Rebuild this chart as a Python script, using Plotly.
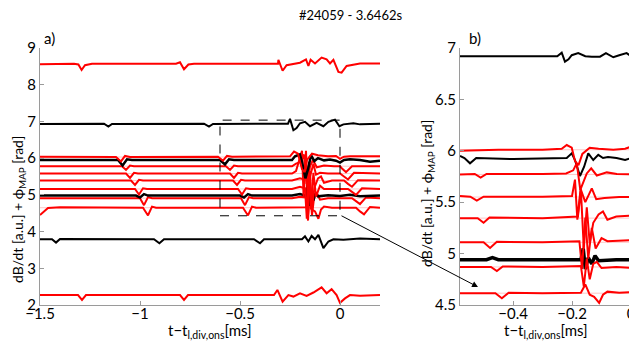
import plotly.graph_objects as go

W, H = 637, 346
OFF = 8  # the html body adds an 8px margin around the plot div

# ---------------- panel a) : t - t_l,div,ons [ms] and dB/dt + phi_MAP [rad]
A_R855_T = [-1.5, -1.33, -1.308, -1.292, -1.275, -1.24, -0.82, -0.8, -0.78, -0.758, -0.73, -0.31, -0.308,
            -0.287, -0.267, -0.233, -0.2, -0.17, -0.158, -0.147, -0.125, -0.092, -0.067, -0.05, -0.033,
            -0.008, 0.008, 0.033, 0.067, 0.1, 0.2]
A_R855_Y = [8.56, 8.57, 8.55, 8.40, 8.53, 8.57, 8.57, 8.61, 8.42, 8.55, 8.57, 8.57, 8.68,
            8.38, 8.53, 8.56, 8.60, 8.69, 8.51, 8.68, 8.58, 8.74, 8.69, 8.58, 8.68,
            8.35, 8.33, 8.51, 8.55, 8.58, 8.58]

A_K693_T = [-1.5, -1.18, -1.158, -1.14, -0.68, -0.655, -0.635, -0.26, -0.25, -0.233, -0.217, -0.2, -0.175,
            -0.15, -0.117, -0.083, -0.058, -0.025, -0.003, 0.017, 0.067, 0.1, 0.2]
A_K693_Y = [6.93, 6.94, 6.86, 6.93, 6.94, 6.86, 6.93, 6.94, 7.07, 6.76, 6.82, 6.95, 6.99,
            6.87, 6.96, 6.87, 6.99, 7.05, 6.87, 6.92, 6.95, 6.92, 6.94]

A_R603_T = [-1.5, -1.12, -1.095, -1.075, -1.05, -0.61, -0.585, -0.565, -0.54, -0.25, -0.23, -0.21, -0.19,
            -0.178, -0.165, -0.14, -0.11, -0.06, -0.02, 0.0, 0.02, 0.05, 0.2]
A_R603_Y = [6.04, 6.03, 5.91, 6.06, 6.03, 6.04, 5.93, 6.06, 6.04, 6.05, 6.18, 6.12, 5.70,
            5.62, 5.95, 6.12, 6.08, 6.05, 6.06, 5.98, 6.04, 6.05, 6.05]

A_K595_T = [-1.5, -1.11, -1.087, -1.065, -1.04, -0.6, -0.575, -0.555, -0.53, -0.24, -0.225, -0.201, -0.19,
            -0.173, -0.159, -0.145, -0.128, -0.11, -0.08, -0.05, -0.02, 0.0, 0.02, 0.05, 0.1, 0.15, 0.2]
A_K595_Y = [5.95, 5.95, 5.80, 5.97, 5.95, 5.95, 5.83, 5.97, 5.95, 5.95, 6.05, 6.10, 5.90,
            5.45, 5.72, 6.08, 5.92, 6.00, 5.94, 5.96, 5.93, 5.88, 5.95, 5.97, 5.95, 5.90, 5.93]

A_R578_T = [-1.5, -1.09, -1.07, -1.05, -1.03, -0.57, -0.55, -0.53, -0.51, -0.24, -0.22, -0.196, -0.18,
            -0.167, -0.15, -0.135, -0.116, -0.08, -0.03, 0.0, 0.01, 0.03, 0.06, 0.2]
A_R578_Y = [5.78, 5.78, 5.68, 5.80, 5.78, 5.78, 5.68, 5.80, 5.78, 5.78, 5.85, 5.90, 6.10,
            5.30, 5.78, 5.95, 5.75, 5.80, 5.78, 5.78, 5.72, 5.62, 5.78, 5.78]

A_R558_T = [-1.5, -1.07, -1.05, -1.03, -1.01, -0.55, -0.53, -0.51, -0.49, -0.24, -0.22, -0.19, -0.182,
            -0.171, -0.155, -0.133, -0.12, -0.1, -0.06, 0.0, 0.02, 0.04, 0.07, 0.2]
A_R558_Y = [5.58, 5.58, 5.46, 5.60, 5.58, 5.58, 5.46, 5.60, 5.58, 5.58, 5.65, 6.20, 4.95,
            5.85, 5.40, 5.85, 5.55, 5.60, 5.58, 5.58, 5.50, 5.42, 5.60, 5.58]

A_R539_T = [-1.5, -1.045, -1.025, -1.005, -0.985, -0.535, -0.515, -0.495, -0.475, -0.24, -0.2, -0.18, -0.17,
            -0.16, -0.15, -0.14, -0.128, -0.11, -0.095, -0.08, -0.04, 0.02, 0.04, 0.06, 0.09, 0.2]
A_R539_Y = [5.39, 5.39, 5.27, 5.41, 5.39, 5.39, 5.27, 5.41, 5.39, 5.39, 5.45, 5.42, 6.20,
            4.45, 5.65, 4.60, 5.20, 5.45, 5.50, 5.33, 5.39, 5.39, 5.30, 5.22, 5.40, 5.39]

A_R516_T = [-1.5, -1.025, -1.005, -0.985, -0.965, -0.51, -0.49, -0.47, -0.45, -0.24, -0.2, -0.175, -0.166,
            -0.155, -0.145, -0.133, -0.12, -0.1, -0.08, -0.04, 0.04, 0.06, 0.08, 0.11, 0.2]
A_R516_Y = [5.16, 5.16, 5.01, 5.18, 5.16, 5.16, 5.01, 5.18, 5.16, 5.16, 5.22, 5.18, 4.35,
            5.90, 4.60, 5.60, 4.95, 5.25, 5.16, 5.16, 5.16, 5.08, 5.00, 5.18, 5.16]

A_K498_T = [-1.5, -1.02, -1.0, -0.98, -0.96, -0.5, -0.48, -0.46, -0.44, -0.24, -0.2, -0.17, -0.162,
            -0.155, -0.145, -0.133, -0.122, -0.11, -0.06, 0.0, 0.05, 0.1, 0.2]
A_K498_Y = [4.98, 4.98, 4.93, 5.02, 4.98, 4.98, 4.93, 5.02, 4.98, 4.98, 5.02, 4.98, 5.30,
            4.70, 5.00, 4.85, 5.05, 4.96, 4.99, 4.97, 5.00, 4.96, 4.98]

A_R491_T = [-1.5, -1.0, -0.98, -0.96, -0.94, -0.495, -0.475, -0.455, -0.435, -0.24, -0.2, -0.17, -0.16,
            -0.15, -0.14, -0.128, -0.116, -0.1, -0.06, 0.06, 0.08, 0.1, 0.13, 0.2]
A_R491_Y = [4.91, 4.91, 4.72, 4.94, 4.91, 4.91, 4.72, 4.94, 4.91, 4.91, 4.95, 4.93, 4.30,
            5.15, 4.45, 5.00, 5.05, 4.87, 4.91, 4.91, 4.83, 4.75, 4.93, 4.91]

A_R465_T = [-1.5, -1.46, -1.4, -0.985, -0.96, -0.94, -0.92, -0.485, -0.46, -0.44, -0.42, -0.24, -0.17,
            -0.155, -0.14, -0.125, -0.108, -0.095, -0.08, -0.04, 0.08, 0.1, 0.12, 0.15, 0.2]
A_R465_Y = [4.45, 4.64, 4.66, 4.65, 4.44, 4.68, 4.65, 4.65, 4.44, 4.68, 4.65, 4.65, 4.66,
            4.85, 4.60, 4.55, 4.35, 4.60, 4.68, 4.65, 4.65, 4.55, 4.47, 4.67, 4.65]

A_K378_T = [-1.5, -1.44, -1.42, -1.40, -0.93, -0.903, -0.88, -0.43, -0.40, -0.38, -0.19, -0.175, -0.158,
            -0.142, -0.125, -0.108, -0.083, -0.058, -0.033, 0.017, 0.1, 0.2]
A_K378_Y = [3.79, 3.79, 3.70, 3.80, 3.79, 3.68, 3.79, 3.79, 3.68, 3.79, 3.79, 3.87, 3.73,
            3.88, 3.79, 3.91, 3.55, 3.73, 3.79, 3.78, 3.81, 3.79]

A_R228_T = [-1.5, -1.31, -1.29, -1.27, -0.80, -0.78, -0.76, -0.33, -0.313, -0.287, -0.258, -0.233, -0.2,
            -0.167, -0.133, -0.092, -0.067, -0.042, -0.017, 0.0, 0.025, 0.05, 0.1, 0.2]
A_R228_Y = [2.27, 2.27, 2.14, 2.27, 2.27, 2.14, 2.27, 2.27, 2.41, 2.09, 2.27, 2.23, 2.32,
            2.25, 2.34, 2.48, 2.32, 2.43, 2.27, 2.06, 2.18, 2.27, 2.25, 2.27]

# ---------------- panel b) : zoom on the burst
B_K692_T = [-0.58, -0.4, -0.25, -0.235, -0.224, -0.212, -0.201, -0.179, -0.155, -0.133, -0.105, -0.085,
            -0.06, -0.04, -0.015, 0.0]
B_K692_Y = [6.92, 6.92, 6.92, 6.955, 6.867, 6.89, 6.93, 6.95, 6.92, 6.916, 6.916, 6.95,
            6.91, 6.93, 6.95, 6.92]

B_R601_T = [-0.58, -0.45, -0.3, -0.235, -0.218, -0.201, -0.19, -0.178, -0.165, -0.14, -0.11, -0.06, -0.02, 0.0]
B_R601_Y = [6.00, 6.01, 6.01, 6.02, 6.056, 6.03, 5.90, 5.86, 5.97, 6.03, 6.02, 6.01, 6.02, 6.04]

B_K593_T = [-0.58, -0.565, -0.546, -0.525, -0.4, -0.218, -0.201, -0.19, -0.173, -0.159, -0.145, -0.128,
            -0.111, -0.095, -0.078, -0.049, -0.02, 0.0]
B_K593_Y = [5.95, 5.93, 5.878, 5.93, 5.92, 5.93, 5.975, 5.91, 5.755, 5.845, 5.975, 5.91,
            5.96, 5.93, 5.94, 5.93, 5.91, 5.93]

B_R577_T = [-0.58, -0.53, -0.51, -0.49, -0.3, -0.22, -0.196, -0.184, -0.172, -0.16, -0.15, -0.135,
            -0.116, -0.082, -0.048, 0.0]
B_R577_Y = [5.77, 5.775, 5.74, 5.775, 5.775, 5.78, 5.81, 5.88, 5.62, 5.70, 5.78, 5.83,
            5.76, 5.79, 5.775, 5.77]

B_R555_T = [-0.58, -0.545, -0.523, -0.5, -0.3, -0.2, -0.19, -0.182, -0.171, -0.155, -0.133, -0.118,
            -0.09, -0.04, 0.0]
B_R555_Y = [5.56, 5.553, 5.515, 5.553, 5.553, 5.56, 5.72, 5.33, 5.63, 5.50, 5.635, 5.53,
            5.54, 5.55, 5.55]

B_R534_T = [-0.58, -0.52, -0.5, -0.48, -0.3, -0.18, -0.17, -0.16, -0.15, -0.14, -0.128, -0.11,
            -0.095, -0.08, -0.05, 0.0]
B_R534_Y = [5.345, 5.345, 5.30, 5.35, 5.345, 5.36, 5.62, 5.05, 5.45, 5.10, 5.30, 5.38,
            5.41, 5.33, 5.36, 5.37]

B_R511_T = [-0.58, -0.5, -0.478, -0.455, -0.3, -0.175, -0.166, -0.155, -0.145, -0.133, -0.12, -0.1,
            -0.08, 0.0]
B_R511_Y = [5.11, 5.11, 5.055, 5.115, 5.11, 5.12, 4.85, 5.35, 4.95, 5.25, 5.05, 5.15,
            5.12, 5.13]

B_K494_T = [-0.58, -0.49, -0.47, -0.45, -0.3, -0.17, -0.162, -0.155, -0.145, -0.133, -0.122, -0.11,
            -0.05, 0.0]
B_K494_Y = [4.94, 4.94, 4.96, 4.94, 4.94, 4.94, 5.05, 4.85, 4.96, 4.90, 4.98, 4.93,
            4.94, 4.94]

B_R487_T = [-0.58, -0.475, -0.455, -0.435, -0.3, -0.17, -0.16, -0.15, -0.14, -0.128, -0.116, -0.1,
            -0.05, 0.0]
B_R487_Y = [4.87, 4.87, 4.83, 4.875, 4.87, 4.88, 4.68, 4.95, 4.75, 4.90, 4.92, 4.86,
            4.87, 4.86]

B_R461_T = [-0.58, -0.46, -0.438, -0.415, -0.3, -0.17, -0.155, -0.14, -0.125, -0.108, -0.095, -0.08,
            -0.04, 0.0]
B_R461_Y = [4.615, 4.615, 4.565, 4.62, 4.615, 4.62, 4.70, 4.60, 4.58, 4.52, 4.60, 4.63,
            4.62, 4.625]

# baseline (phi_MAP) levels drawn faintly behind the red signals
A_BASE_RED = [6.03, 5.78, 5.58, 5.39, 5.16, 4.91, 4.65]
B_BASE_RED = [6.01, 5.77, 5.55, 5.345, 5.11, 4.87, 4.615]

A_XTICKS = [-1.5, -1, -0.5, 0]
A_YTICKS = [2, 3, 4, 5, 6, 7, 8, 9]
B_XTICKS = [-0.4, -0.2, 0]
B_YTICKS = [4.5, 5, 5.5, 6, 6.5, 7]

RED, BLACK = '#ff0000', '#000000'


def px(x):
    return (x - OFF) / W


def py(y):
    return 1 - (y - OFF) / H


fig = go.Figure()

# faint baselines
for lv in A_BASE_RED:
    fig.add_trace(go.Scatter(x=[-1.5, 0.2], y=[lv, lv], mode='lines', xaxis='x', yaxis='y',
                             line=dict(color='rgba(255,90,90,0.35)', width=1), hoverinfo='skip'))
for lv in B_BASE_RED:
    fig.add_trace(go.Scatter(x=[-0.58, 0], y=[lv, lv], mode='lines', xaxis='x2', yaxis='y2',
                             line=dict(color='rgba(255,90,90,0.35)', width=1), hoverinfo='skip'))

a_traces = [
    (A_R855_T, A_R855_Y, RED, 2), (A_K693_T, A_K693_Y, BLACK, 2),
    (A_R465_T, A_R465_Y, RED, 2), (A_R491_T, A_R491_Y, RED, 2), (A_K498_T, A_K498_Y, BLACK, 2.5),
    (A_R516_T, A_R516_Y, RED, 2), (A_R539_T, A_R539_Y, RED, 2), (A_R558_T, A_R558_Y, RED, 2),
    (A_R578_T, A_R578_Y, RED, 2), (A_K595_T, A_K595_Y, BLACK, 2.5), (A_R603_T, A_R603_Y, RED, 2),
    (A_K378_T, A_K378_Y, BLACK, 2), (A_R228_T, A_R228_Y, RED, 2),
]
b_traces = [
    (B_K692_T, B_K692_Y, BLACK, 2), (B_K593_T, B_K593_Y, BLACK, 2), (B_K494_T, B_K494_Y, BLACK, 3.5),
    (B_R601_T, B_R601_Y, RED, 2), (B_R577_T, B_R577_Y, RED, 2), (B_R555_T, B_R555_Y, RED, 2),
    (B_R534_T, B_R534_Y, RED, 2), (B_R511_T, B_R511_Y, RED, 2), (B_R487_T, B_R487_Y, RED, 2),
    (B_R461_T, B_R461_Y, RED, 2),
]
for t, y, c, w in a_traces:
    fig.add_trace(go.Scatter(x=t, y=y, mode='lines', xaxis='x', yaxis='y',
                             line=dict(color=c, width=w), hoverinfo='skip'))
for t, y, c, w in b_traces:
    fig.add_trace(go.Scatter(x=t, y=y, mode='lines', xaxis='x2', yaxis='y2',
                             line=dict(color=c, width=w), hoverinfo='skip'))

FONT = 'Lato'
ax_common = dict(showline=True, linecolor='#9a9a9a', linewidth=1, ticks='inside', ticklen=4,
                 tickcolor='#9a9a9a', showgrid=False, zeroline=False, mirror=False, automargin=False,
                 ticklabeloverflow='allow', tickfont=dict(family=FONT, size=15, color='black'))

ydom = [py(305), py(48)]
fig.update_layout(
    width=W, height=H, margin=dict(l=0, r=0, t=0, b=0, autoexpand=False),
    paper_bgcolor='white', plot_bgcolor='white', showlegend=False,
    xaxis=dict(domain=[px(40), px(380)], range=[-1.5, 0.2], tickvals=A_XTICKS,
               ticktext=['\u22121.5', '\u22121', '\u22120.5', '0'], anchor='y',
               ticklabelstandoff=-5, **ax_common),
    yaxis=dict(domain=ydom, range=[2, 9], tickvals=A_YTICKS, anchor='x', **ax_common),
    xaxis2=dict(domain=[px(460), px(631)], range=[-0.58, 0], tickvals=B_XTICKS,
                ticktext=['\u22120.4', '\u22120.2', '0'], anchor='y2',
                ticklabelstandoff=-5, **ax_common),
    yaxis2=dict(domain=ydom, range=[4.5, 7], tickvals=B_YTICKS, anchor='x2', **ax_common),
)

# dashed box marking the zoomed region
fig.add_shape(type='rect', xref='x', yref='y', x0=-0.6, x1=0, y0=4.43, y1=7.035,
              line=dict(color='black', width=1, dash='dash'))

ann_font = dict(family=FONT, size=15, color='black')
ylab = 'dB/dt [a.u.] + \u03d5<sub>MAP</sub> [rad]'
xlab = 't\u2212t<sub>l,div,ons</sub>[ms]'
annotations = [
    dict(x=px(350), y=py(15), text='#24059 - 3.6462s', font=dict(family=FONT, size=13, color='black')),
    dict(x=px(49), y=py(38), text='a)', font=ann_font),
    dict(x=px(475), y=py(38), text='b)', font=ann_font),
    dict(x=px(18), y=py(210), text=ylab, textangle=-90, font=dict(family=FONT, size=14, color='black')),
    dict(x=px(427), y=py(194), text=ylab, textangle=-90, font=dict(family=FONT, size=14, color='black')),
    dict(x=px(210), y=py(319), text=xlab, yanchor='top', font=ann_font),
    dict(x=px(546), y=py(319), text=xlab, yanchor='top', font=ann_font),
]
for a in annotations:
    a.setdefault('xref', 'paper')
    a.setdefault('yref', 'paper')
    a.setdefault('xanchor', 'center')
    a.setdefault('yanchor', 'middle')
    a.setdefault('showarrow', False)
    fig.add_annotation(**a)

# arrow from the box corner to panel b)
fig.add_annotation(x=px(478), y=py(287), xref='paper', yref='paper', ax=-138, ay=-72,
                   showarrow=True, arrowhead=2, arrowsize=1.2, arrowwidth=1, arrowcolor='black', text='')

fig.write_html("out.html")
